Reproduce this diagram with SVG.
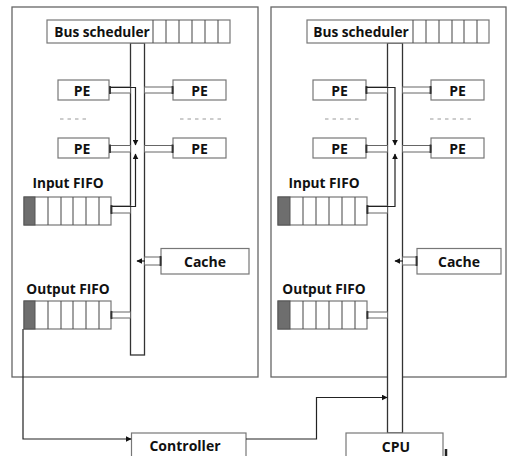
<svg xmlns="http://www.w3.org/2000/svg" width="507" height="456" viewBox="0 0 507 456">
<defs>
<style>
.panel{fill:#fff;stroke:#666;stroke-width:1.3}
.box{fill:#fff;stroke:#777;stroke-width:1.2}
.bus{fill:#fff;stroke:#333;stroke-width:1.3}
.cell{stroke:#555;stroke-width:1.1;fill:none}
.dark{fill:#6e6e6e;stroke:#555;stroke-width:1}
.tube{fill:#fff;stroke:#666;stroke-width:1}
.cap{stroke:#333;stroke-width:1.8}
.dash{stroke:#999;stroke-width:1;stroke-dasharray:3.5 4}
.wire{fill:none;stroke:#222;stroke-width:1.2}
.t{font-family:"Open Sans","DejaVu Sans",sans-serif;font-weight:bold;fill:#111;text-anchor:middle}
</style>
<marker id="ah" viewBox="0 0 10 10" refX="9" refY="5" markerWidth="6" markerHeight="6" orient="auto" markerUnits="userSpaceOnUse">
<path d="M0,0 L10,5 L0,10 z" fill="#111"/>
</marker>
</defs>

<g id="panel-left">
<rect class="panel" x="12" y="7" width="246" height="370"/>
</g>
<g id="panel-right">
<rect class="panel" x="271" y="7" width="235" height="370"/>
</g>

<g id="bus-left">
<rect class="bus" x="130.5" y="43" width="14" height="312"/>
</g>
<g id="bus-right">
<rect class="bus" x="387.5" y="43" width="15" height="390"/>
</g>

<g id="sched-left">
<rect class="box" x="47" y="20" width="183" height="23"/>
<path class="cell" d="M153,20V43M166,20V43M179,20V43M192,20V43M205,20V43M218,20V43"/>
<text class="t" x="102" y="37" font-size="13.7">Bus scheduler</text>
</g>
<g id="sched-right">
<rect class="box" x="307" y="20" width="182" height="23"/>
<path class="cell" d="M413,20V43M426,20V43M439,20V43M452,20V43M464,20V43M477,20V43"/>
<text class="t" x="361" y="37" font-size="13.7">Bus scheduler</text>
</g>

<g id="pe-l1"><rect class="box" x="58" y="80" width="51" height="20"/><text class="t" x="82" y="95.5" font-size="14">PE</text></g>
<g id="pe-l2"><rect class="box" x="173" y="80" width="53" height="20"/><text class="t" x="199.5" y="95.5" font-size="14">PE</text></g>
<g id="pe-l3"><rect class="box" x="58" y="138" width="51" height="20"/><text class="t" x="82" y="153.5" font-size="14">PE</text></g>
<g id="pe-l4"><rect class="box" x="173" y="138" width="53" height="20"/><text class="t" x="199.5" y="153.5" font-size="14">PE</text></g>

<g id="pe-r1"><rect class="box" x="313" y="80" width="53" height="20"/><text class="t" x="339.5" y="95.5" font-size="14">PE</text></g>
<g id="pe-r2"><rect class="box" x="431" y="80" width="53" height="20"/><text class="t" x="457.5" y="95.5" font-size="14">PE</text></g>
<g id="pe-r3"><rect class="box" x="313" y="138" width="53" height="20"/><text class="t" x="339.5" y="153.5" font-size="14">PE</text></g>
<g id="pe-r4"><rect class="box" x="431" y="138" width="53" height="20"/><text class="t" x="457.5" y="153.5" font-size="14">PE</text></g>

<g id="dashes">
<line class="dash" x1="60" y1="119" x2="89" y2="119"/>
<line class="dash" x1="180" y1="119" x2="224" y2="119"/>
<line class="dash" x1="325" y1="119" x2="359" y2="119"/>
<line class="dash" x1="430" y1="119" x2="475" y2="119"/>
</g>

<g id="infifo-left">
<text class="t" x="68" y="188" font-size="13.7">Input FIFO</text>
<rect class="box" x="24" y="197" width="87" height="28"/>
<rect class="dark" x="24" y="197" width="11" height="28"/>
<path class="cell" d="M48,197V225M61,197V225M73,197V225M86,197V225M99,197V225"/>
</g>
<g id="infifo-right">
<text class="t" x="324" y="188" font-size="13.7">Input FIFO</text>
<rect class="box" x="278" y="197" width="89" height="28"/>
<rect class="dark" x="278" y="197" width="12" height="28"/>
<path class="cell" d="M303,197V225M316,197V225M329,197V225M342,197V225M355,197V225"/>
</g>

<g id="cache-left">
<rect class="box" x="161" y="248.5" width="88" height="25.5"/>
<text class="t" x="205" y="266.5" font-size="14">Cache</text>
</g>
<g id="cache-right">
<rect class="box" x="417" y="248.5" width="84" height="25.5"/>
<text class="t" x="459" y="266.5" font-size="14">Cache</text>
</g>

<g id="outfifo-left">
<text class="t" x="68" y="294" font-size="13.7">Output FIFO</text>
<rect class="box" x="24" y="301" width="87" height="28"/>
<rect class="dark" x="24" y="301" width="11" height="28"/>
<path class="cell" d="M48,301V329M61,301V329M73,301V329M86,301V329M99,301V329"/>
</g>
<g id="outfifo-right">
<text class="t" x="324" y="294" font-size="13.7">Output FIFO</text>
<rect class="box" x="278" y="301" width="89" height="28"/>
<rect class="dark" x="278" y="301" width="12" height="28"/>
<path class="cell" d="M303,301V329M316,301V329M329,301V329M342,301V329M355,301V329"/>
</g>

<g id="controller">
<rect class="box" x="131.5" y="433" width="114.5" height="30"/>
<text class="t" x="185" y="451" font-size="14">Controller</text>
</g>
<g id="cpu">
<rect class="box" x="346" y="433" width="97" height="30"/>
<text class="t" x="396" y="452" font-size="14">CPU</text>
<line x1="446" y1="449" x2="446" y2="456" stroke="#222" stroke-width="2.5"/>
</g>

<g id="connectors">
<rect class="tube" x="110" y="87" width="20.5" height="6"/>
<rect class="tube" x="144.5" y="87" width="28.5" height="6"/>
<rect class="tube" x="110" y="145.5" width="20.5" height="6.5"/>
<rect class="tube" x="144.5" y="145.5" width="28.5" height="6.5"/>
<rect class="tube" x="111" y="206" width="19.5" height="7"/>
<rect class="tube" x="144.5" y="257" width="16.5" height="8"/>
<rect class="tube" x="111" y="312" width="19.5" height="6"/>
<path class="cap" d="M110,86V94M172.5,86V94M110,144.5V153M172.5,144.5V153M111.5,205V214M160.5,256V266M111.5,311V319"/>
<rect class="tube" x="366" y="87" width="21.5" height="6"/>
<rect class="tube" x="402.5" y="87" width="28.5" height="6"/>
<rect class="tube" x="366" y="145.5" width="21.5" height="6.5"/>
<rect class="tube" x="402.5" y="145.5" width="28.5" height="6.5"/>
<rect class="tube" x="367" y="206" width="20.5" height="7"/>
<rect class="tube" x="402.5" y="257" width="14.5" height="8"/>
<rect class="tube" x="367" y="312" width="20.5" height="6"/>
<path class="cap" d="M366.5,86V94M430.5,86V94M366.5,144.5V153M430.5,144.5V153M367.5,205V214M416.5,256V266M367.5,311V319"/>
<path class="wire" d="M110,87.5H135.5V145" marker-end="url(#ah)"/>
<path class="wire" d="M111,206.5H135.5V154" marker-end="url(#ah)"/>
<path class="wire" d="M145,261H137" marker-end="url(#ah)"/>
<path class="wire" d="M366,87.5H395V145" marker-end="url(#ah)"/>
<path class="wire" d="M367,206.5H395V154" marker-end="url(#ah)"/>
<path class="wire" d="M403,261H395" marker-end="url(#ah)"/>
<path class="wire" d="M23,329V439H131" marker-end="url(#ah)"/>
<path class="wire" d="M246,439H316.5V397.5H387" marker-end="url(#ah)"/>
</g>
</svg>
